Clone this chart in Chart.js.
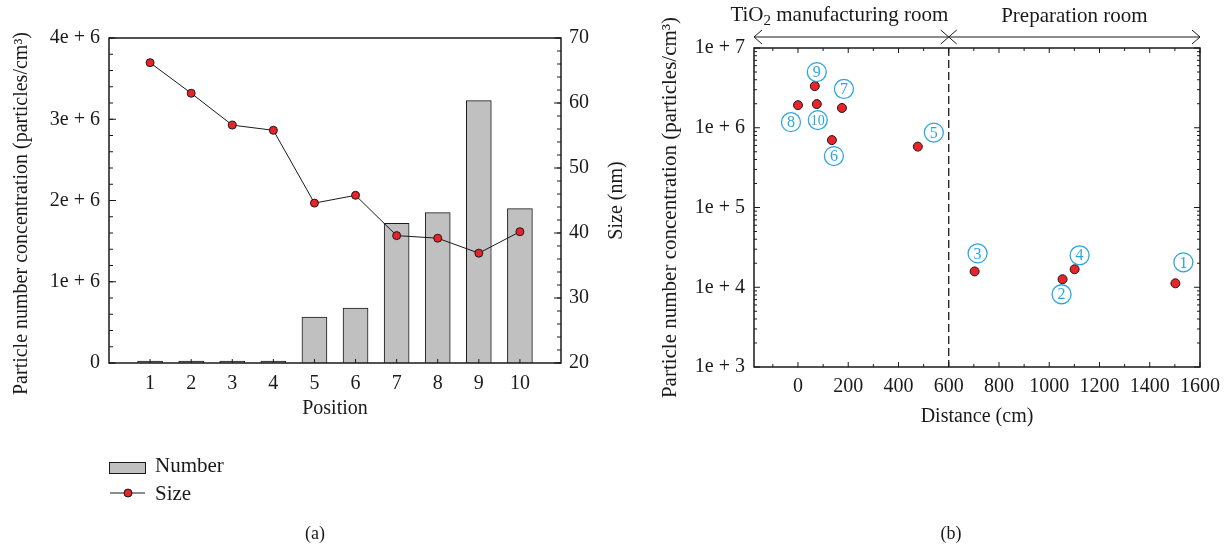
<!DOCTYPE html>
<html lang="en">
<head>
<meta charset="UTF-8">
<title>Particle number concentration by position and distance</title>
<script src="https://cdn.jsdelivr.net/npm/chart.js"></script>
<style>
  body { margin: 0; background: #fff; font-family: 'Liberation Serif', serif; color: #1a1a1a; }
  .page { position: relative; width: 1229px; height: 552px; overflow: hidden; }
  canvas { position: absolute; top: 0; }
  #chartA { left: 0; }
  #chartB { left: 640px; }
  .caption { position: absolute; top: 523px; font-size: 18px; transform: translateX(-50%); }
</style>
</head>
<body>
<div class="page">
  <canvas id="chartA" width="640" height="552"></canvas>
  <canvas id="chartB" width="589" height="552"></canvas>
  <div class="caption" style="left:315px">(a)</div>
  <div class="caption" style="left:951px">(b)</div>
</div>
<script>
// (a) position vs number concentration / size
const positions = [1, 2, 3, 4, 5, 6, 7, 8, 9, 10];
const numberConc = [1.1e4, 1.25e4, 1.55e4, 1.65e4, 5.65e5, 6.75e5, 1.72e6, 1.85e6, 3.23e6, 1.90e6];
const sizeNm = [66.2, 61.5, 56.6, 55.8, 44.6, 45.8, 39.6, 39.2, 36.9, 40.2];
const concTickLabels = ['0', '1e + 6', '2e + 6', '3e + 6', '4e + 6'];

// (b) distance vs number concentration (log)
const distanceCm = [1502, 1053, 703, 1101, 477, 135, 175, 0, 67, 75];
const pointConc = [1.12e4, 1.26e4, 1.58e4, 1.68e4, 5.8e5, 7.0e5, 1.77e6, 1.92e6, 3.33e6, 1.98e6];
const distTicks = [0, 200, 400, 600, 800, 1000, 1200, 1400, 1600];
const logTickLabels = ['1e + 3', '1e + 4', '1e + 5', '1e + 6', '1e + 7'];
const roomNames = ['manufacturing room', 'Preparation room'];
const roomBounds = [-175, 600, 1600];

// label placement for the circled numbers (px from each point)
const labelOffsets = [[8, -21], [-1, 15], [3, -18], [5, -14], [16, -14], [2, 16], [2, -19], [-7, 17], [2, -14], [1, 16]];

const INK = '#1a1a1a';
const RED = '#e8232a';
const BLUE = '#2ba6df';
const SERIF = "'Liberation Serif', serif";
const tickFont = { family: SERIF, size: 20 };
const titleFont = { family: SERIF, size: 20 };
const noGrid = { display: false, drawTicks: false };

function range(a, b, step) {
  const out = [];
  for (let v = a; v <= b + step * 1e-6; v += step) out.push(+v.toFixed(6));
  return out;
}

// inward tick marks on one side of the chart area
function marks(ctx, scale, values, len, side, area) {
  ctx.beginPath();
  values.forEach(v => {
    const p = scale.getPixelForValue(v);
    if (side === 'left') { ctx.moveTo(area.left, p); ctx.lineTo(area.left + len, p); }
    if (side === 'right') { ctx.moveTo(area.right, p); ctx.lineTo(area.right - len, p); }
    if (side === 'bottom') { ctx.moveTo(p, area.bottom); ctx.lineTo(p, area.bottom - len); }
    if (side === 'top') { ctx.moveTo(p, area.top); ctx.lineTo(p, area.top + len); }
  });
  ctx.stroke();
}

function frame(ctx, area) {
  ctx.strokeStyle = INK;
  ctx.lineWidth = 1.5;
  ctx.strokeRect(area.left, area.top, area.right - area.left, area.bottom - area.top);
  ctx.lineWidth = 1;
}

function upText(ctx, text, x, y) {
  ctx.save();
  ctx.translate(x, y);
  ctx.rotate(-Math.PI / 2);
  ctx.fillText(text, 0, 0);
  ctx.restore();
}

const frameA = {
  id: 'frameA',
  afterDraw(chart) {
    const { ctx, chartArea: a, scales } = chart;
    ctx.save();
    frame(ctx, a);
    marks(ctx, scales.y, range(0, 4e6, 1e6), 7, 'left', a);
    marks(ctx, scales.y, range(0, 4e6, 2e5), 4, 'left', a);
    marks(ctx, scales.y1, range(20, 70, 10), 7, 'right', a);
    marks(ctx, scales.y1, range(20, 70, 2), 4, 'right', a);
    marks(ctx, scales.x, positions, 4, 'bottom', a);

    // axis titles, reading upwards
    ctx.fillStyle = INK;
    ctx.font = `${titleFont.size}px ${SERIF}`;
    ctx.textAlign = 'center';
    ctx.textBaseline = 'middle';
    upText(ctx, 'Particle number concentration (particles/cm³)', 22, (a.top + a.bottom) / 2 + 13);
    upText(ctx, 'Size (nm)', 617, (a.top + a.bottom) / 2);

    // legend under the plot
    const bar = chart.data.datasets[1];
    const line = chart.data.datasets[0];
    const lx = a.left;
    ctx.font = `21px ${SERIF}`;
    ctx.textAlign = 'left';
    ctx.fillStyle = bar.backgroundColor;
    ctx.fillRect(lx, 462, 36, 11);
    ctx.strokeStyle = INK;
    ctx.strokeRect(lx + 0.5, 462.5, 36, 11);
    ctx.fillStyle = INK;
    ctx.fillText(bar.label, lx + 46, 466);
    ctx.beginPath();
    ctx.moveTo(lx + 1, 493);
    ctx.lineTo(lx + 36, 493);
    ctx.stroke();
    ctx.beginPath();
    ctx.arc(lx + 19, 493, 4, 0, Math.PI * 2);
    ctx.fillStyle = line.pointBackgroundColor;
    ctx.fill();
    ctx.stroke();
    ctx.fillStyle = INK;
    ctx.fillText(line.label, lx + 46, 494);
    ctx.restore();
  }
};

const frameB = {
  id: 'frameB',
  afterDraw(chart) {
    const { ctx, chartArea: a, scales } = chart;
    const x = scales.x, y = scales.y;
    ctx.save();
    frame(ctx, a);
    marks(ctx, x, distTicks, 5, 'bottom', a);
    marks(ctx, x, range(-100, 1500, 200), 3, 'bottom', a);
    marks(ctx, x, distTicks, 5, 'top', a);
    marks(ctx, x, range(-100, 1500, 200), 3, 'top', a);
    const minor = [];
    for (let e = 3; e < 7; e++) for (let k = 2; k <= 9; k++) minor.push(k * Math.pow(10, e));
    const decades = [1e3, 1e4, 1e5, 1e6, 1e7];
    marks(ctx, y, decades, 6, 'left', a);
    marks(ctx, y, minor, 3, 'left', a);
    marks(ctx, y, decades, 6, 'right', a);
    marks(ctx, y, minor, 3, 'right', a);

    // room divider
    const xd = x.getPixelForValue(roomBounds[1]);
    ctx.setLineDash([8, 4]);
    ctx.lineWidth = 1.3;
    ctx.beginPath();
    ctx.moveTo(xd, a.top);
    ctx.lineTo(xd, a.bottom);
    ctx.stroke();
    ctx.setLineDash([]);
    ctx.lineWidth = 1;

    // double arrows above the plot
    const ay = a.top - 11;
    const x0 = x.getPixelForValue(roomBounds[0]);
    const x2 = x.getPixelForValue(roomBounds[2]);
    ctx.beginPath();
    ctx.moveTo(x0, ay); ctx.lineTo(x2, ay);
    [[x0, 1], [xd, -1], [xd, 1], [x2, -1]].forEach(([px, dir]) => {
      ctx.moveTo(px + dir * 8, ay - 7);
      ctx.lineTo(px, ay);
      ctx.lineTo(px + dir * 8, ay + 7);
    });
    ctx.stroke();

    // room names
    ctx.fillStyle = INK;
    ctx.textBaseline = 'middle';
    ctx.textAlign = 'left';
    const big = `21px ${SERIF}`, small = `15px ${SERIF}`;
    ctx.font = big;
    const w1 = ctx.measureText('TiO').width;
    const w3 = ctx.measureText(' ' + roomNames[0]).width;
    ctx.font = small;
    const w2 = ctx.measureText('2').width;
    let tx = (x0 + xd) / 2 - (w1 + w2 + w3) / 2 - 12;
    ctx.font = big;
    ctx.fillText('TiO', tx, 15);
    ctx.font = small;
    ctx.fillText('2', tx + w1, 21);
    ctx.font = big;
    ctx.fillText(' ' + roomNames[0], tx + w1 + w2, 15);
    ctx.textAlign = 'center';
    ctx.fillText(roomNames[1], (xd + x2) / 2, 16);

    // circled position numbers
    const meta = chart.getDatasetMeta(0);
    ctx.strokeStyle = BLUE;
    ctx.fillStyle = BLUE;
    ctx.lineWidth = 1.3;
    meta.data.forEach((pt, i) => {
      const cx = pt.x + labelOffsets[i][0];
      const cy = pt.y + labelOffsets[i][1];
      ctx.beginPath();
      ctx.arc(cx, cy, 9.5, 0, Math.PI * 2);
      ctx.stroke();
      ctx.font = `${positions[i] > 9 ? 14 : 16}px ${SERIF}`;
      ctx.fillText(String(positions[i]), cx, cy + 1);
    });
    ctx.restore();
  }
};

new Chart(document.getElementById('chartA'), {
  type: 'bar',
  data: {
    datasets: [
      {
        type: 'line',
        label: 'Size',
        data: positions.map((p, i) => ({ x: p, y: sizeNm[i] })),
        yAxisID: 'y1',
        borderColor: INK,
        borderWidth: 1,
        pointRadius: 4,
        pointBackgroundColor: RED,
        pointBorderColor: INK,
        pointBorderWidth: 1,
        order: 0
      },
      {
        label: 'Number',
        data: positions.map((p, i) => ({ x: p, y: numberConc[i] })),
        yAxisID: 'y',
        backgroundColor: '#c0c0c0',
        borderColor: INK,
        borderWidth: 1,
        barThickness: 25,
        minBarLength: 2,
        order: 1
      }
    ]
  },
  options: {
    responsive: false,
    animation: false,
    layout: { padding: { top: 38, bottom: 119 } },
    plugins: { legend: { display: false }, tooltip: { enabled: false } },
    scales: {
      x: {
        type: 'linear', min: 0, max: 11, offset: false,
        grid: noGrid, border: { display: false },
        ticks: { stepSize: 1, padding: 9, font: tickFont, color: INK },
        afterBuildTicks: s => { s.ticks = positions.map(v => ({ value: v })); },
        afterFit: s => { s.height = 70; },
        title: { display: true, text: 'Position', font: titleFont, color: INK, padding: { bottom: 12 } }
      },
      y: {
        min: 0, max: 4e6,
        grid: noGrid, border: { display: false },
        ticks: { stepSize: 1e6, padding: 9, font: tickFont, color: INK, callback: (v, i) => concTickLabels[i] },
        afterFit: s => { s.width = 109; }
      },
      y1: {
        position: 'right', min: 20, max: 70,
        grid: noGrid, border: { display: false },
        ticks: { stepSize: 10, padding: 8, font: tickFont, color: INK },
        afterFit: s => { s.width = 79; }
      }
    }
  },
  plugins: [frameA]
});

new Chart(document.getElementById('chartB'), {
  type: 'scatter',
  data: {
    datasets: [{
      label: 'Concentration',
      data: distanceCm.map((d, i) => ({ x: d, y: pointConc[i] })),
      pointRadius: 4.5,
      pointBackgroundColor: RED,
      pointBorderColor: INK,
      pointBorderWidth: 1
    }]
  },
  options: {
    responsive: false,
    animation: false,
    layout: { padding: { top: 48, right: 29, bottom: 115 } },
    plugins: { legend: { display: false }, tooltip: { enabled: false } },
    scales: {
      x: {
        type: 'linear', min: roomBounds[0], max: roomBounds[2],
        grid: noGrid, border: { display: false },
        ticks: { padding: 8, font: tickFont, color: INK, maxRotation: 0, autoSkip: false, callback: v => String(v) },
        afterBuildTicks: s => { s.ticks = distTicks.map(v => ({ value: v })); },
        afterFit: s => { s.height = 70; },
        title: { display: true, text: 'Distance (cm)', font: titleFont, color: INK, padding: { bottom: 8 } }
      },
      y: {
        type: 'logarithmic', min: 1e3, max: 1e7,
        grid: noGrid, border: { display: false },
        ticks: { padding: 9, font: tickFont, color: INK, autoSkip: false, callback: (v, i) => logTickLabels[i] },
        afterBuildTicks: s => { s.ticks = [1e3, 1e4, 1e5, 1e6, 1e7].map(v => ({ value: v })); },
        afterFit: s => { s.width = 114; },
        title: { display: true, text: 'Particle number concentration (particles/cm³)', font: { family: SERIF, size: 21 }, color: INK, padding: { top: 18 } }
      }
    }
  },
  plugins: [frameB]
});
</script>
</body>
</html>
